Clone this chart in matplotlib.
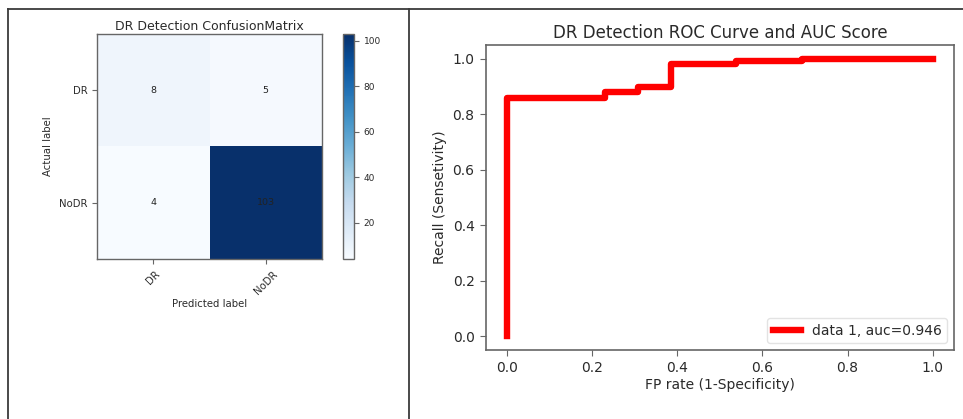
import matplotlib
matplotlib.use("Agg")
import matplotlib.pyplot as plt
import numpy as np
from matplotlib.lines import Line2D

# ---- data ----
classes = ["DR", "NoDR"]
cm_values = [[8, 5],
             [4, 103]]
cbar_ticks = [20, 40, 60, 80, 100]

fpr = [0.0, 0.0, 0.231, 0.231, 0.308, 0.308, 0.385, 0.385, 0.538, 0.538, 0.692, 0.692, 1.0]
tpr = [0.0, 0.860, 0.860, 0.879, 0.879, 0.897, 0.897, 0.981, 0.981, 0.991, 0.991, 1.0, 1.0]
auc_score = 0.946
roc_xticks = [0.0, 0.2, 0.4, 0.6, 0.8, 1.0]
roc_yticks = [0.0, 0.2, 0.4, 0.6, 0.8, 1.0]

TXT = "#2a2a2a"
SPINE = "#666666"
plt.rcParams["text.color"] = TXT
plt.rcParams["axes.labelcolor"] = TXT
plt.rcParams["xtick.color"] = TXT
plt.rcParams["ytick.color"] = TXT
plt.rcParams["axes.edgecolor"] = SPINE

W, H = 963, 419
fig = plt.figure(figsize=(W / 100, H / 100), dpi=100)
fig.patch.set_facecolor("white")

def fx(px):
    return px / W

def fy(py):
    return 1 - py / H

# ---- frame lines ----
frame_kw = dict(color="#3a3a3a", lw=1.3)
fig.add_artist(Line2D([fx(8), 1.0], [fy(9.5), fy(9.5)], transform=fig.transFigure, **frame_kw))
fig.add_artist(Line2D([fx(8), fx(8)], [fy(9.5), 0.0], transform=fig.transFigure, **frame_kw))
fig.add_artist(Line2D([fx(408.5), fx(408.5)], [fy(9.5), 0.0], transform=fig.transFigure, **frame_kw))

# ---- confusion matrix ----
ax1 = fig.add_axes([fx(97), fy(259), fx(322) - fx(97), fy(34) - fy(259)])
cm = np.array(cm_values)
im = ax1.imshow(cm, interpolation="nearest", cmap="Blues", aspect="auto")
ax1.set_title("DR Detection ConfusionMatrix", fontsize=9, pad=3)
ax1.set_xticks(range(len(classes)))
ax1.set_xticklabels(classes, rotation=45, fontsize=7.3)
ax1.set_yticks(range(len(classes)))
ax1.set_yticklabels(classes, fontsize=7.3)
ax1.tick_params(length=3.5, width=0.8, color=SPINE)
for i in range(cm.shape[0]):
    for j in range(cm.shape[1]):
        ax1.text(j, i, str(cm[i, j]), ha="center", va="center", fontsize=6.8, color="#222222")
ax1.set_xlabel("Predicted label", fontsize=7.3, labelpad=2)
ax1.set_ylabel("Actual label", fontsize=7.3, labelpad=4)
for s in ax1.spines.values():
    s.set_linewidth(1.0)

cax = fig.add_axes([fx(343), fy(259), fx(354) - fx(343), fy(34) - fy(259)])
cb = fig.colorbar(im, cax=cax)
cb.set_ticks(cbar_ticks)
cb.ax.tick_params(labelsize=6.5, length=3.5, width=0.8, color=SPINE)
cb.outline.set_edgecolor(SPINE)
cb.outline.set_linewidth(1.0)

# ---- ROC ----
ax2 = fig.add_axes([fx(485.7), fy(350), fx(954) - fx(485.7), fy(45) - fy(350)])
ax2.plot(fpr, tpr, color="red", lw=4.6, label="data 1, auc=%.3f" % auc_score)
ax2.set_title("DR Detection ROC Curve and AUC Score", fontsize=12, pad=5)
ax2.set_xlabel("FP rate (1-Specificity)", fontsize=10, labelpad=2)
ax2.set_ylabel("Recall (Sensetivity)", fontsize=10)
ax2.set_xticks(roc_xticks)
ax2.set_yticks(roc_yticks)
ax2.tick_params(labelsize=10, length=4.5, width=0.8, color=SPINE)
ax2.set_xlim(-0.05, 1.05)
ax2.set_ylim(-0.05, 1.05)
leg = ax2.legend(loc="lower right", fontsize=10, handlelength=2.0, borderaxespad=0.5)
leg.get_frame().set_edgecolor("#dddddd")
for s in ax2.spines.values():
    s.set_linewidth(1.2)

fig.savefig("out.png", dpi=100, facecolor="white")
